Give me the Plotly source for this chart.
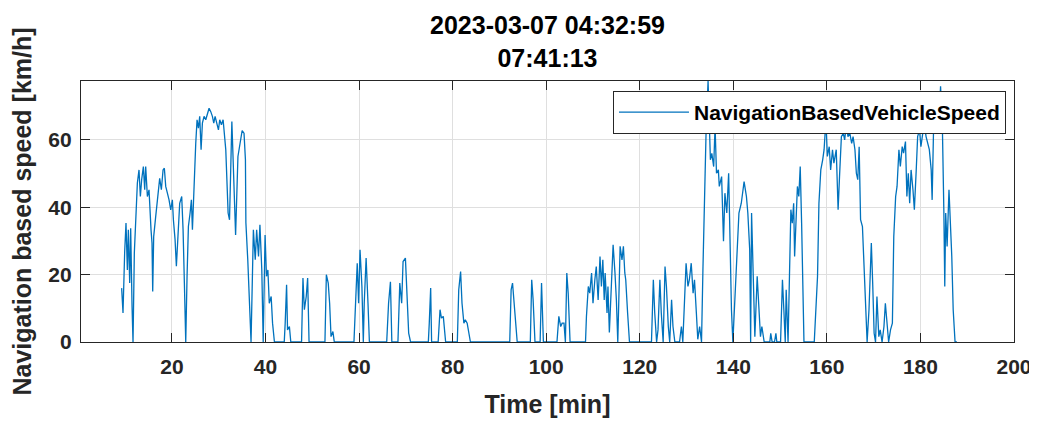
import plotly.graph_objects as go

# Time [min] and speed [km/h]
time_min = [
    9.24, 9.53, 9.89, 10.17, 10.46, 10.67, 10.96, 11.17, 11.46, 11.67, 11.95, 12.24, 12.60, 12.95,
    13.24, 13.52, 13.88, 14.17, 14.38, 14.74, 15.09, 15.52, 15.73, 15.88, 16.09, 16.52, 17.02, 17.37,
    17.73, 18.09, 18.37, 18.66, 19.02, 19.37, 19.73, 20.08, 20.30, 20.66, 20.94, 21.23, 21.65, 22.08,
    22.37, 22.65, 22.94, 23.22, 23.51, 23.87, 24.15, 24.37, 24.72, 25.08, 25.36, 25.65, 25.93, 26.22,
    26.50, 26.86, 27.22, 27.57, 27.93, 28.29, 28.64, 28.93, 29.22, 29.57, 29.93, 30.21, 30.57, 30.93,
    31.21, 31.50,
    32.0, 32.3, 32.8, 33.1, 33.6, 34.1, 34.6, 35.0, 35.4, 35.7,
    35.8, 36.2, 36.9, 37.4, 37.8, 38.1, 38.5, 38.8, 39.2, 39.5, 39.9, 40.2, 40.5, 40.8, 41.2, 41.5,
    41.9, 44.0, 44.2, 44.5, 44.7, 45.1, 45.4, 47.7, 48.0, 48.3, 48.7, 49.0, 49.3, 52.7, 53.0, 53.4,
    53.7, 54.0, 54.4, 54.7, 58.9, 59.3, 59.6, 59.9, 60.2, 60.6, 60.9, 61.1, 61.5, 61.9, 62.2, 65.9,
    66.3, 66.7, 67.0, 68.3, 68.7,
    69.1, 69.4, 69.9, 70.3, 70.6, 71.0, 74.8, 75.0, 75.3, 75.5, 76.9, 77.3, 77.6, 78.0, 78.3, 78.5,
    81.0, 81.3, 81.7, 82.0, 82.4, 82.7, 83.1, 83.5, 83.8, 92.2, 92.5, 92.8, 93.1, 93.5, 93.8, 96.6,
    96.9, 97.2, 97.6, 98.7, 99.0, 99.4, 102.3, 102.7, 103.1, 103.4, 103.8, 104.1, 104.4, 104.7, 105.1,
    108.4,
    108.6, 109.0, 109.3, 109.7, 110.0, 110.4, 110.7, 111.1, 111.5, 111.8, 112.1, 112.4, 112.6, 113.0,
    113.2, 113.5, 113.8, 114.1, 114.3, 114.7, 115.0, 115.3, 115.6, 115.8, 116.2, 116.5, 116.8, 117.0,
    117.4, 117.8, 122.5, 122.9, 123.2, 123.6, 123.9, 124.3, 124.6, 125.0, 125.4, 125.7, 126.1, 126.4,
    126.8, 127.1, 127.5, 128.5, 128.9, 129.2, 129.9, 130.3, 130.6, 131.0, 131.4, 131.7, 132.1, 132.4,
    132.8, 133.2, 133.5, 133.9, 134.2, 134.6, 134.8, 135.1, 135.4, 135.8, 136.1, 136.4, 136.8, 137.0,
    137.5, 137.9, 138.2, 138.6, 139.0, 139.3, 139.6, 139.9,
    140.7, 141.2, 141.7, 142.3, 142.8, 143.1, 143.5, 143.7, 143.9, 144.2, 144.6, 145.1, 145.4, 145.8,
    146.1, 146.6, 147.8, 148.0, 148.3, 148.8, 149.1, 149.3, 150.1, 150.5, 150.8, 151.1, 151.3, 151.7,
    152.0, 152.3, 152.6, 152.9, 153.1, 153.4, 153.7, 154.0, 154.3, 154.6, 154.8, 155.1, 157.3, 157.6,
    158.0, 158.3, 158.7, 159.1, 159.4, 159.8, 160.1, 160.5, 160.8, 161.2, 161.5, 162.0, 162.4, 162.7,
    163.1, 163.5, 163.8, 164.2, 164.5, 164.9, 165.3, 165.6, 166.0, 166.3, 166.6, 166.9, 167.2, 167.6,
    167.9, 168.3, 168.6, 169.0, 169.5, 169.8, 170.1, 170.4,
    170.7, 171.1, 171.4, 171.8, 172.2, 172.5, 172.9, 173.2, 173.6, 174.0, 174.3, 174.7, 175.0, 175.4,
    175.7, 176.1, 176.4, 176.8, 177.1, 177.4, 177.7, 178.0, 178.4, 178.7, 179.1, 179.4, 179.8, 180.1,
    180.5, 180.8, 181.2, 181.6, 181.9, 182.3, 182.5, 182.8, 183.2, 183.7, 184.0, 184.3, 184.7, 185.0,
    185.2, 185.4, 185.7, 186.1, 186.4, 186.7, 187.0, 187.4, 187.8,
]

speed_kmh = [
    16.0, 8.6, 26.9, 35.3, 21.4, 33.3, 17.5, 33.8, 10.6, 0, 26.4, 38.3, 47.2, 51.1,
    43.2, 48.2, 52.1, 45.2, 52.1, 43.2, 45.2, 33.3, 29.4, 15.0, 31.3, 37.3, 44.2, 48.6,
    45.2, 51.1, 51.6, 46.2, 44.2, 42.2, 39.2, 42.2, 36.3, 30.4, 22.5, 29.4, 41.2, 43.2,
    33.3, 17.5, 0, 19.5, 34.3, 38.3, 42.2, 33.3, 48.2, 59.0, 66.0, 63.5, 67.0, 57.1,
    65.0, 67.0, 66.0, 68.0, 69.4, 68.4, 67.0, 65.0, 67.0, 65.0, 63.0, 66.0, 64.5, 66.0,
    61.0, 57.1,
    38.3, 36.3, 65.5, 54.1, 31.8, 55.1, 60.0, 62.8, 62.0, 54.1,
    35.4, 24.4, 0, 33.3, 24.4, 33.3, 25.4, 34.8, 21.4, 0, 31.8, 19.5, 21.4, 11.5, 13.5, 5.6,
    0, 0, 5.6, 17.0, 3.6, 4.6, 0, 0, 19.0, 9.6, 13.5, 19.0, 0, 0, 20.0, 17.5,
    11.5, 1.6, 3.1, 0, 0, 16.5, 23.4, 11.5, 27.4, 16.5, 0, 11.5, 24.9, 11.5, 0, 0,
    11.5, 17.9, 0, 0, 17.5,
    11.5, 23.9, 24.9, 11.5, 2.6, 0, 0, 5.6, 16.0, 0, 0, 9.6, 7.1, 7.6, 3.6, 0,
    0, 15.5, 20.9, 11.5, 5.6, 6.6, 5.6, 1.6, 0, 0, 15.5, 17.5, 11.5, 5.6, 0, 0,
    18.5, 12.5, 0, 0, 17.5, 0, 0, 7.6, 4.6, 5.6, 5.6, 0, 20.5, 14.5, 0,
    0,
    7.6, 16.5, 14.5, 20.5, 11.5, 18.5, 22.4, 12.5, 25.4, 16.5, 24.4, 12.5, 20.5, 8.6,
    16.5, 2.8, 14.5, 22.4, 28.9, 20.5, 12.5, 0, 14.5, 28.4, 24.4, 28.4, 20.5, 18.5,
    8.6, 0, 0, 18.5, 8.6, 0, 3.6, 18.5, 8.6, 0, 22.4, 16.5, 4.6, 0,
    12.5, 4.6, 0, 0, 4.6, 0, 23.4, 16.5, 18.5, 23.4, 14.5, 18.5, 8.6, 0.8,
    4.6, 0, 21.4, 44.2, 64.0, 77.5, 64.0, 54.1, 56.0, 52.1, 64.0, 50.1, 51.1, 46.2,
    49.1, 29.9, 44.2, 38.3, 50.1, 28.4, 9.6, 0,
    21.5, 38.3, 41.2, 47.6, 43.2, 38.3, 27.4, 0, 38.3, 21.5, 1.6, 19.5, 9.6, 1.6,
    4.6, 0, 0, 2.6, 0, 0, 2.6, 0, 0, 18.5, 9.6, 0, 15.5, 0,
    19.5, 39.3, 35.3, 41.2, 25.4, 39.3, 46.2, 43.2, 52.1, 35.3, 17.5, 0, 0, 9.6,
    19.5, 41.2, 51.1, 54.1, 57.1, 66.0, 55.1, 58.0, 51.1, 57.1, 53.1, 57.1, 39.3, 49.1,
    61.0, 62.0, 60.0, 65.0, 61.0, 62.0, 59.0, 61.0, 57.1, 50.1, 48.2, 58.0, 36.3, 34.3,
    25.4, 11.5, 0, 9.6, 29.4, 17.0, 2.6, 0,
    13.5, 1.6, 3.6, 0, 4.6, 11.5, 5.6, 0, 3.6, 5.6, 31.3, 43.2, 46.2, 57.1,
    52.1, 58.0, 56.1, 59.5, 43.2, 50.1, 41.2, 51.1, 45.2, 39.3, 51.1, 61.0, 63.0, 58.0,
    62.0, 65.0, 61.0, 59.0, 57.1, 51.1, 42.2, 63.0, 70.9, 62.0, 66.0, 75.9, 63.0, 39.3,
    16.5, 38.3, 28.4, 45.2, 36.3, 25.4, 9.6, 0, 0,
]

x_ticks = [20, 40, 60, 80, 100, 120, 140, 160, 180, 200]
y_ticks = [0, 20, 40, 60]

title_text = "2023-03-07 04:32:59<br>07:41:13"
series_name = "NavigationBasedVehicleSpeed"

FONT = "Liberation Sans, Arial, Helvetica, sans-serif"
AX = "#262626"
GRID = "#dfdfdf"

fig = go.Figure()
fig.add_trace(go.Scatter(
    x=time_min, y=speed_kmh, mode="lines", name=series_name,
    line=dict(color="#0072BD", width=1.3), showlegend=True,
))

axis_common = dict(
    showgrid=True, gridcolor=GRID, gridwidth=1,
    showline=True, linecolor=AX, linewidth=1.2, mirror="ticks",
    ticks="inside", ticklen=9, tickcolor=AX, tickwidth=1,
    zeroline=False, automargin=False,
    tickfont=dict(family=FONT, size=21, color=AX, weight="bold"),
)

# the page body adds an 8 px offset, so the figure is 8 px smaller and margins compensate
fig.update_layout(
    width=1029, height=414,
    margin=dict(l=73, r=23, t=73, b=80),
    paper_bgcolor="white", plot_bgcolor="white",
    title=dict(
        text=title_text, x=0.5, xref="paper", xanchor="center",
        y=0.9365, yref="container", yanchor="top",
        font=dict(family=FONT, size=25, color="black", weight="bold"),
    ),
    xaxis=dict(
        range=[0.55, 200], tickvals=x_ticks, ticklabelstandoff=6,
        title=dict(text="Time [min]", standoff=18,
                   font=dict(family=FONT, size=25, color=AX, weight="bold")),
        **axis_common,
    ),
    yaxis=dict(
        range=[0, 77.5], tickvals=y_ticks, ticklabelstandoff=4,
        title=dict(text="Navigation based speed [km/h]", standoff=10,
                   font=dict(family=FONT, size=25, color=AX, weight="bold")),
        **axis_common,
    ),
    legend=dict(
        x=0.9914, xanchor="right", xref="paper",
        y=0.9617, yanchor="top", yref="paper",
        bgcolor="white", bordercolor=AX, borderwidth=1,
        font=dict(family=FONT, size=21, color="black", weight="bold"),
        itemwidth=70,
    ),
)

fig.write_html("out.html")
